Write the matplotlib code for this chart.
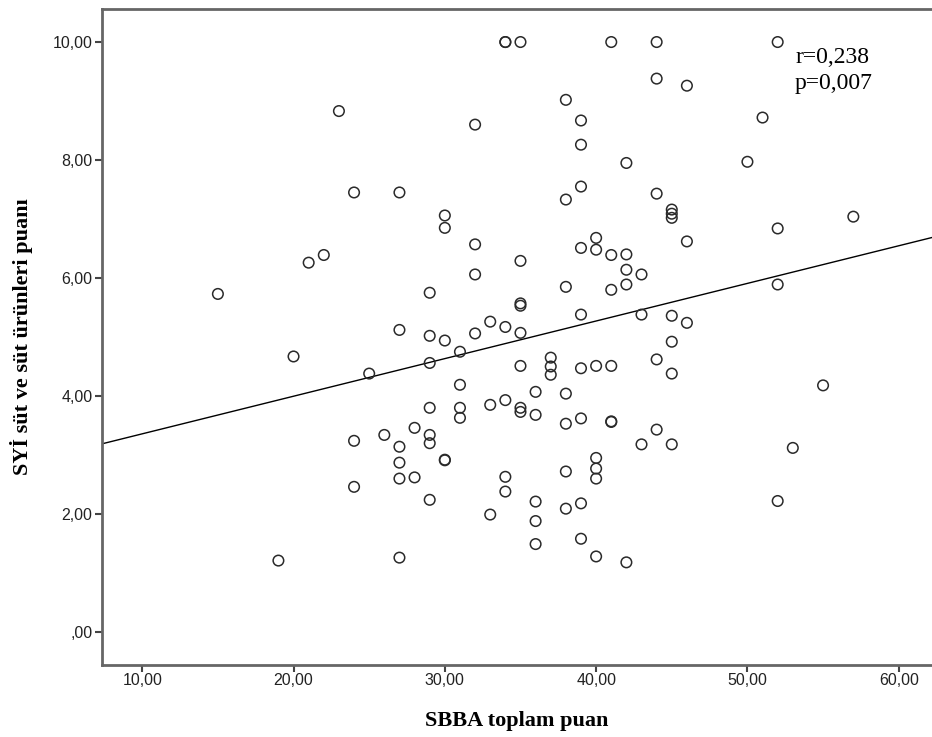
import numpy as np
import matplotlib
matplotlib.use("Agg")
import matplotlib.pyplot as plt
from matplotlib.ticker import FuncFormatter

# ---- data ----
x_sbba = [15, 19, 20, 21, 22, 23,
          24, 24, 24, 25, 26,
          27, 27, 27, 27, 27, 27,
          28, 28,
          29, 29, 29, 29, 29, 29, 29,
          30, 30, 30, 30, 30,
          31, 31, 31, 31,
          32, 32, 32, 32,
          33, 33, 33,
          34, 34, 34, 34, 34, 34,
          35, 35, 35, 35, 35, 35, 35, 35,
          36, 36, 36, 36, 36,
          37, 37, 37,
          38, 38, 38, 38, 38, 38, 38,
          39, 39, 39, 39, 39, 39, 39, 39, 39,
          40, 40, 40, 40, 40, 40, 40,
          41, 41, 41, 41, 41, 41,
          42, 42, 42, 42, 42,
          43, 43, 43,
          44, 44, 44, 44, 44,
          45, 45, 45, 45, 45, 45, 45,
          46, 46, 46,
          50, 51, 52, 52, 52, 52, 53, 55, 57]
y_syi = [5.73, 1.21, 4.67, 6.26, 6.39, 8.83,
         7.45, 3.24, 2.46, 4.38, 3.34,
         7.45, 5.12, 3.14, 2.87, 2.60, 1.26,
         3.46, 2.62,
         5.75, 5.02, 4.56, 3.80, 3.34, 3.20, 2.24,
         7.06, 6.85, 4.94, 2.91, 2.92,
         4.75, 4.19, 3.80, 3.63,
         8.60, 6.57, 6.06, 5.06,
         5.26, 3.85, 1.99,
         10.0, 10.0, 5.17, 3.93, 2.63, 2.38,
         10.0, 6.29, 5.57, 5.53, 5.07, 4.51, 3.80, 3.73,
         4.07, 3.68, 2.21, 1.88, 1.49,
         4.65, 4.50, 4.36,
         9.02, 7.33, 5.85, 4.04, 3.53, 2.72, 2.09,
         8.67, 8.26, 7.55, 6.51, 5.38, 4.47, 3.62, 2.18, 1.58,
         6.68, 6.48, 4.51, 2.95, 2.77, 2.60, 1.28,
         10.0, 6.39, 5.80, 4.51, 3.56, 3.57,
         7.95, 6.40, 6.14, 5.89, 1.18,
         6.06, 5.38, 3.18,
         10.0, 9.38, 7.43, 4.62, 3.43,
         7.16, 7.09, 7.02, 5.36, 4.92, 4.38, 3.18,
         9.26, 6.62, 5.24,
         7.97, 8.72, 10.0, 6.84, 5.89, 2.22, 3.12, 4.18, 7.04]

x_ticks = [10, 20, 30, 40, 50, 60]
y_ticks = [0, 2, 4, 6, 8, 10]
stats_text = "r=0,238\np=0,007"
x_label = "SBBA toplam puan"
y_label = "SYİ süt ve süt ürünleri puanı"

# ---- figure ----
fig = plt.figure(figsize=(9.32, 7.37), dpi=100)
ax = fig.add_axes([102 / 932, (737 - 665) / 737, 1 - 102 / 932, (665 - 9) / 737])

ax.set_xlim(7.34, 62.2)
ax.set_ylim(-0.56, 10.56)

ax.scatter(x_sbba, y_syi, s=7.6 ** 2, facecolors="none", edgecolors="#2a2a2a",
           linewidths=1.1, zorder=3)

slope, intercept = np.polyfit(x_sbba, y_syi, 1)
xl = np.array(ax.get_xlim())
ax.plot(xl, intercept + slope * xl, color="black", lw=1.0, zorder=2)

def fmt(v, pos):
    s = f"{v:.2f}".replace(".", ",")
    if s.startswith("0,"):
        s = s[1:]
    return s

ax.set_xticks(x_ticks)
ax.set_yticks(y_ticks)
ax.xaxis.set_major_formatter(FuncFormatter(fmt))
ax.yaxis.set_major_formatter(FuncFormatter(fmt))
ax.tick_params(axis="both", direction="out", length=5, width=1.5, color="#444444",
               labelsize=11.5, labelcolor="#222222", pad=2)
ax.tick_params(axis="x", pad=1)
for lab in ax.get_xticklabels() + ax.get_yticklabels():
    lab.set_family(["Liberation Sans", "DejaVu Sans"])

for side in ["left", "bottom", "top"]:
    ax.spines[side].set_color("#666666")
    ax.spines[side].set_linewidth(2.0)
ax.spines["right"].set_visible(False)

ax.set_xlabel(x_label, fontsize=16, fontweight="bold",
              family=["Liberation Serif", "DejaVu Serif"], labelpad=16)
ax.set_ylabel(y_label, fontsize=16, fontweight="bold",
              family=["Liberation Serif", "DejaVu Serif"], labelpad=14)

ax.text(53.15, 9.92, stats_text, fontsize=17, va="top", ha="left",
        family=["Liberation Serif", "DejaVu Serif"], linespacing=1.35)

fig.savefig("out.png", dpi=100)
